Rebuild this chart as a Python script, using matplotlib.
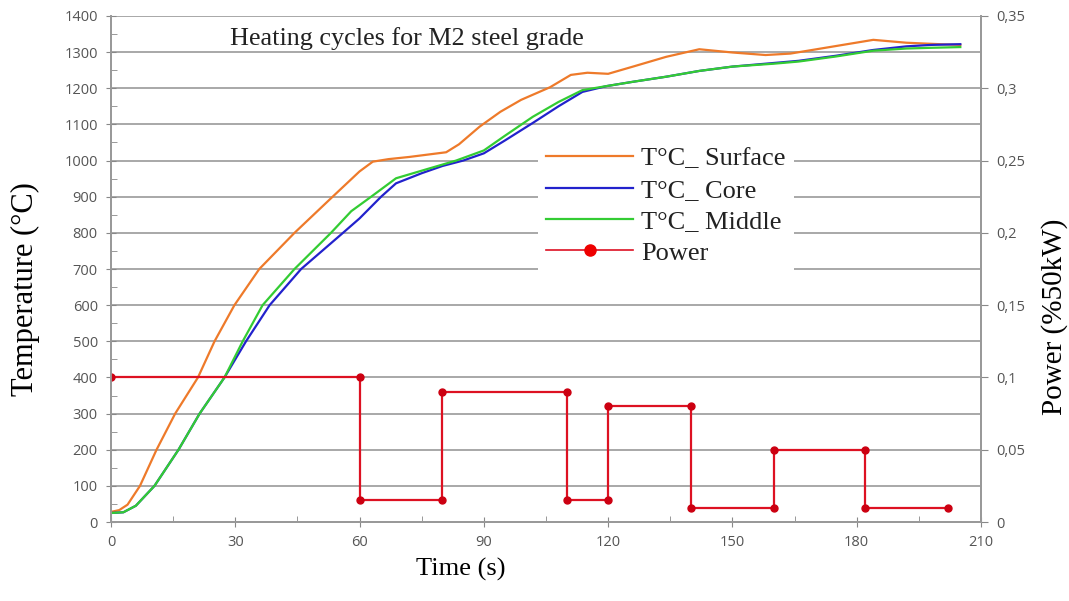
import matplotlib.pyplot as plt
from matplotlib.ticker import MultipleLocator, FuncFormatter
from matplotlib.lines import Line2D

# time (s) / temperature (°C)
t_surface = [0, 2, 4, 7, 11, 15.5, 21, 25, 29.8, 35.8, 44.3, 53.5, 60, 63.2, 67, 72, 80.9,
             84, 89, 94, 99, 106, 111, 115, 120, 126, 134, 142, 150, 158, 164, 174, 184,
             192, 200, 205]
T_surface = [28, 33, 48, 100, 200, 300, 400, 500, 600, 700, 800, 900, 970, 997, 1004, 1010, 1023,
             1045, 1094, 1135, 1168, 1203, 1237, 1243, 1240, 1260, 1287, 1308, 1299, 1292, 1296, 1315, 1334,
             1326, 1322, 1320]

t_core = [0, 3, 6, 10.5, 16.3, 21.4, 27.4, 32.6, 38.3, 45.9, 56, 60, 65.2, 68.8, 75, 80, 85,
          90, 95, 101.8, 108, 113.8, 119.6, 126, 134, 142, 150, 160, 166, 175, 184, 192, 198, 205]
T_core = [25, 27, 45, 100, 200, 300, 400, 500, 600, 700, 800, 840, 900, 937, 965, 985, 1000,
          1020, 1055, 1104, 1150, 1190, 1206, 1218, 1232, 1248, 1260, 1270, 1276, 1290, 1306, 1316, 1320, 1322]

t_middle = [0, 3, 6, 10.5, 16.3, 21.4, 27.4, 31.8, 36.6, 44.3, 53.1, 58, 62.8, 68.8, 75, 83.3,
            90, 95, 101.8, 108, 113.8, 119.6, 126, 134, 142, 150, 160, 166, 175, 184, 192, 198, 205]
T_middle = [25, 27, 45, 100, 200, 300, 400, 500, 600, 700, 800, 860, 900, 951, 972, 1000,
            1028, 1068, 1121, 1162, 1195, 1206, 1218, 1232, 1248, 1260, 1268, 1274, 1288, 1304, 1310, 1312, 1314]

# power steps (fraction of 50 kW)
t_power = [0, 60, 60, 80, 80, 110, 110, 120, 120, 140, 140, 160, 160, 182, 182, 202]
P_power = [0.1, 0.1, 0.015, 0.015, 0.09, 0.09, 0.015, 0.015, 0.08, 0.08, 0.01, 0.01, 0.05, 0.05, 0.01, 0.01]

serif = "Liberation Serif"
tick_col = "#555555"

fig = plt.figure(figsize=(10.69, 6.01), dpi=100)
ax = fig.add_axes([0.1038, 0.1314, 0.8139, 0.842])
ax2 = ax.twinx()

ax.set_xlim(0, 210)
ax.set_ylim(0, 1400)
ax2.set_ylim(0, 0.35)

for y in range(100, 1500, 100):
    ax.axhline(y, color="#a8a8a8", lw=1.4, zorder=0)

l_s, = ax.plot(t_surface, T_surface, color="#ee7a2a", lw=1.6, zorder=3)
l_c, = ax.plot(t_core, T_core, color="#2222cc", lw=1.6, zorder=3)
l_m, = ax.plot(t_middle, T_middle, color="#33cc33", lw=1.6, zorder=4)
l_p, = ax2.plot(t_power, P_power, color="#dd1122", lw=1.6, marker="o", ms=5,
                mfc="#cc0011", mec="#cc0011")

ax.xaxis.set_major_locator(MultipleLocator(30))
ax.xaxis.set_minor_locator(MultipleLocator(15))
ax.yaxis.set_major_locator(MultipleLocator(100))
ax.yaxis.set_minor_locator(MultipleLocator(50))
ax2.yaxis.set_major_locator(MultipleLocator(0.05))
ax2.yaxis.set_major_formatter(FuncFormatter(lambda v, p: ("%g" % round(v, 2)).replace(".", ",")))

for a in (ax, ax2):
    for s in a.spines.values():
        s.set_color("#999999")
        s.set_linewidth(1.3)
    a.spines["top"].set_visible(False)
ax.tick_params(which="major", direction="inout", length=7, color="#888888", labelcolor=tick_col,
               labelsize=10.5, pad=6)
ax.tick_params(which="minor", direction="in", length=4, color="#888888")
ax2.tick_params(which="major", direction="out", length=5, color="#888888", labelcolor=tick_col,
                labelsize=10.5, pad=6)
for lab in ax.get_xticklabels() + ax.get_yticklabels() + ax2.get_yticklabels():
    lab.set_fontfamily("Open Sans")

ax.set_ylabel("Temperature (°C)", family=serif, fontsize=22)
ax.yaxis.set_label_coords(-0.081, 0.46)
ax2.set_ylabel("Power (%50kW)", family=serif, fontsize=21, rotation=90)
ax2.yaxis.set_label_coords(1.069, 0.405)
ax.set_xlabel("Time (s)", family=serif, fontsize=19)
ax.xaxis.set_label_coords(0.402, -0.07)

ax.text(0.137, 0.955, "Heating cycles for M2 steel grade", transform=ax.transAxes,
        family=serif, fontsize=18.8, color="#222222", va="center")

handles = [l_s, l_c, l_m, Line2D([], [], color="#dd1122", lw=1.2, marker="o", ms=8,
                                    mfc="#ee0000", mec="#ee0000", markevery=[1])]
leg = ax2.legend(handles, ["T°C_ Surface", "T°C_ Core", "T°C_ Middle", "Power"],
                 loc="upper left", bbox_to_anchor=(0.476, 0.783), frameon=True, fancybox=False,
                 facecolor="white", edgecolor="none", framealpha=1, handlelength=3.3,
                 handletextpad=0.3, labelspacing=0.3, borderpad=0.3,
                 prop={"family": serif, "size": 19})
for txt in leg.get_texts():
    txt.set_color("#222222")

fig.savefig("out.png", dpi=100)
